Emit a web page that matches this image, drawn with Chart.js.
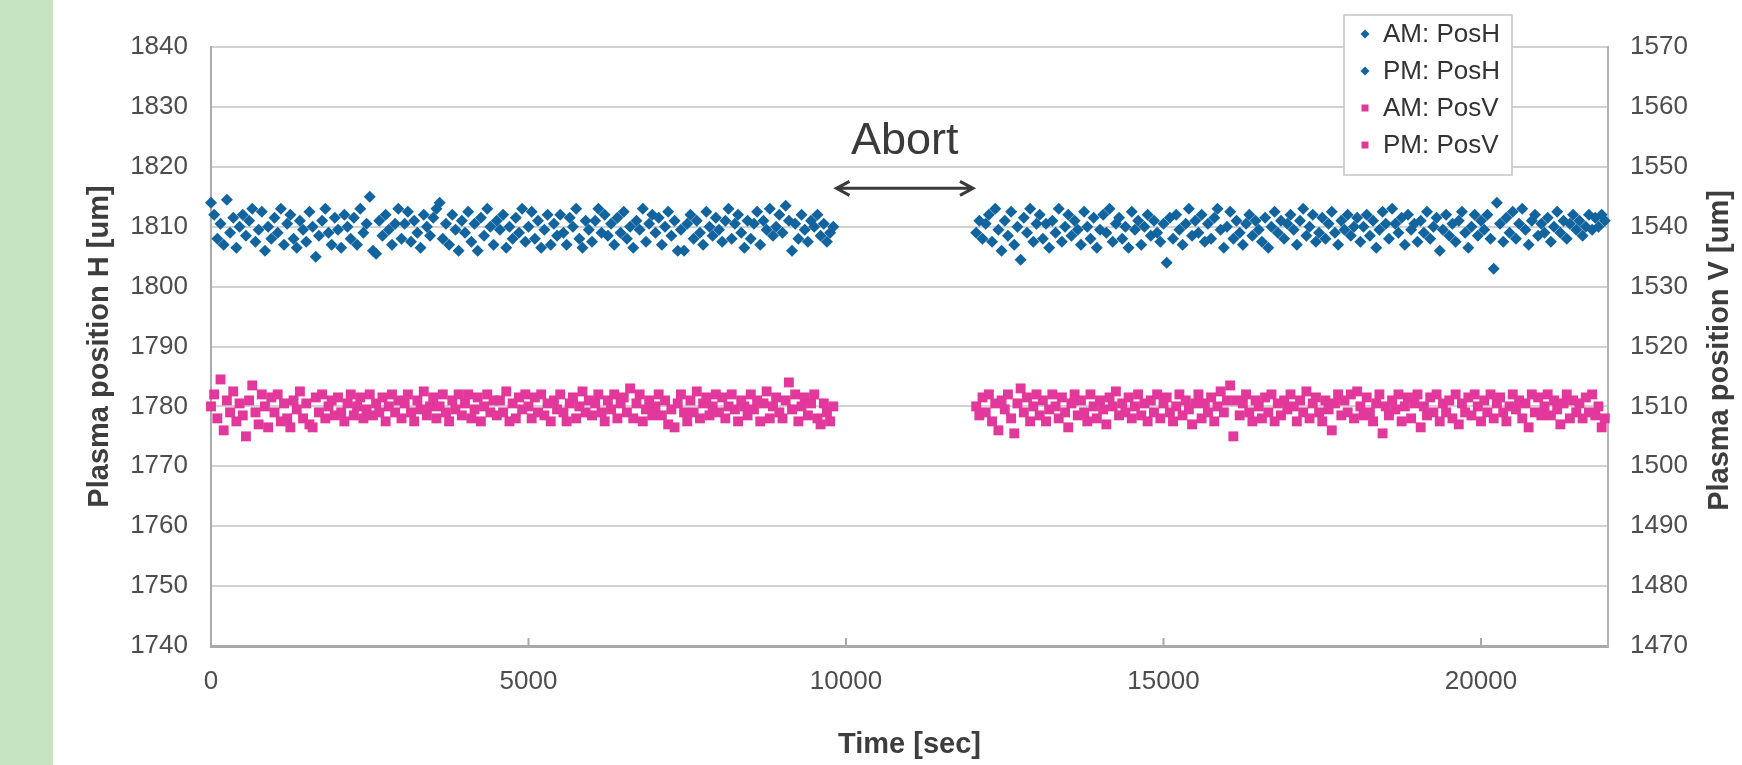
<!DOCTYPE html>
<html>
<head>
<meta charset="utf-8">
<title>Plasma position H / V</title>
<script src="https://cdn.jsdelivr.net/npm/chart.js@4.4.1/dist/chart.umd.min.js"></script>
<style>
  html, body { margin: 0; padding: 0; }
  body {
    width: 1742px; height: 765px; overflow: hidden;
    background: linear-gradient(to right, #c6e4c0 0, #c6e4c0 53px, #ffffff 53px);
  }
  #wrap { position: relative; width: 1742px; height: 765px; }
</style>
</head>
<body>
<div id="wrap"><canvas id="chart"></canvas></div>
<script>
// Time stamps [sec] of each run (shared by PosH and PosV)
const amTime = [0,50,100,150,200,250,300,350,400,450,
  500,550,600,650,700,750,800,850,900,950,
  1000,1050,1100,1150,1200,1250,1300,1350,1400,1450,
  1500,1550,1600,1650,1700,1750,1800,1850,1900,1950,
  2000,2050,2100,2150,2200,2250,2300,2350,2400,2450,
  2500,2550,2600,2650,2700,2750,2800,2850,2900,2950,
  3000,3050,3100,3150,3200,3250,3300,3350,3400,3450,
  3500,3550,3600,3650,3700,3750,3800,3850,3900,3950,
  4000,4050,4100,4150,4200,4250,4300,4350,4400,4450,
  4500,4550,4600,4650,4700,4750,4800,4850,4900,4950,
  5000,5050,5100,5150,5200,5250,5300,5350,5400,5450,
  5500,5550,5600,5650,5700,5750,5800,5850,5900,5950,
  6000,6050,6100,6150,6200,6250,6300,6350,6400,6450,
  6500,6550,6600,6650,6700,6750,6800,6850,6900,6950,
  7000,7050,7100,7150,7200,7250,7300,7350,7400,7450,
  7500,7550,7600,7650,7700,7750,7800,7850,7900,7950,
  8000,8050,8100,8150,8200,8250,8300,8350,8400,8450,
  8500,8550,8600,8650,8700,8750,8800,8850,8900,8950,
  9000,9050,9100,9150,9200,9250,9300,9350,9400,9450,
  9500,9550,9600,9650,9700,9750,9800];

const pmTime = [12050,12100,12150,12200,12250,12300,12350,12400,12450,12500,
  12550,12600,12650,12700,12750,12800,12850,12900,12950,13000,
  13050,13100,13150,13200,13250,13300,13350,13400,13450,13500,
  13550,13600,13650,13700,13750,13800,13850,13900,13950,14000,
  14050,14100,14150,14200,14250,14300,14350,14400,14450,14500,
  14550,14600,14650,14700,14750,14800,14850,14900,14950,15000,
  15050,15100,15150,15200,15250,15300,15350,15400,15450,15500,
  15550,15600,15650,15700,15750,15800,15850,15900,15950,16000,
  16050,16100,16150,16200,16250,16300,16350,16400,16450,16500,
  16550,16600,16650,16700,16750,16800,16850,16900,16950,17000,
  17050,17100,17150,17200,17250,17300,17350,17400,17450,17500,
  17550,17600,17650,17700,17750,17800,17850,17900,17950,18000,
  18050,18100,18150,18200,18250,18300,18350,18400,18450,18500,
  18550,18600,18650,18700,18750,18800,18850,18900,18950,19000,
  19050,19100,19150,19200,19250,19300,19350,19400,19450,19500,
  19550,19600,19650,19700,19750,19800,19850,19900,19950,20000,
  20050,20100,20150,20200,20250,20300,20350,20400,20450,20500,
  20550,20600,20650,20700,20750,20800,20850,20900,20950,21000,
  21050,21100,21150,21200,21250,21300,21350,21400,21450,21500,
  21550,21600,21650,21700,21750,21800,21850,21900,21950];

// Horizontal position [um] (left axis)
const amPosH = [1814,1812,1808,1810.5,1807,1814.5,1809,1811.5,1806.5,1810,
  1812,1808.5,1811,1813,1807.5,1809.5,1812.5,1806,1810,1808,
  1811.5,1809,1813,1807,1810.5,1812,1808,1806.5,1811,1809.5,
  1807.5,1812.5,1810,1805,1808.5,1811,1813,1809,1807,1811.5,
  1809.5,1806.5,1812,1810,1808,1811.5,1807,1813,1809,1810.5,
  1815,1806,1805.5,1811,1808.5,1812,1809.5,1807,1810.5,1813,
  1808,1810.5,1812.5,1807.5,1811,1809,1806.5,1812,1810,1808.5,
  1811.5,1813,1814,1808,1810.5,1807,1812,1809.5,1806,1811,
  1809,1812.5,1807.5,1810.5,1806,1811.5,1808.5,1813,1810,1807,
  1811,1809.5,1812,1806.5,1810,1808,1811.5,1809,1813,1807.5,
  1810,1812.5,1808,1811,1806.5,1809.5,1812,1807,1810.5,1808.5,
  1812,1809,1807,1811.5,1810,1813,1808,1806.5,1811,1809.5,
  1807.5,1811,1813,1809,1812,1808.5,1810.5,1807,1811.5,1809,
  1812.5,1808,1810,1806.5,1811,1809.5,1813,1807.5,1810.5,1812,
  1809,1811.5,1807,1810,1812.5,1808.5,1811,1806,1809.5,1806,
  1810.5,1812,1808,1811,1809,1807,1812.5,1810,1808.5,1811.5,
  1809.5,1807.5,1811,1813,1808,1810.5,1812,1809,1806.5,1811,
  1808,1810.5,1812.5,1807,1811,1809.5,1813,1808.5,1810,1812,
  1809,1813.5,1811,1806,1810.5,1808,1812,1809.5,1807.5,1811,
  1810,1812,1808.5,1810.5,1807.5,1809,1810];

const pmPosH = [1809,1811,1808,1810.5,1812,1807.5,1813,1809.5,1806,1811,
  1808.5,1812.5,1807,1810,1804.5,1811.5,1809,1813,1807.5,1810.5,
  1812,1808,1810.5,1806.5,1811,1809,1813,1807.5,1810,1812,
  1808.5,1811,1809.5,1807,1812.5,1810,1808,1811.5,1806.5,1809.5,
  1812,1809,1813,1807.5,1810.5,1811.5,1808,1810,1806.5,1812.5,
  1809.5,1811,1807,1810,1812,1808.5,1811,1809,1807.5,1810.5,
  1804,1811.5,1808,1812,1809.5,1807,1810.5,1813,1808.5,1811,
  1809,1812,1807.5,1810.5,1808,1811.5,1813,1809.5,1806.5,1810,
  1812.5,1808,1811,1809,1807,1810.5,1812,1808.5,1811,1809.5,
  1807.5,1811.5,1806.5,1810,1812.5,1809,1811,1808,1810.5,1812,
  1809.5,1807,1811,1813,1808.5,1810,1812,1807.5,1809,1811.5,
  1808,1810.5,1812.5,1809,1807,1811,1809.5,1812,1808.5,1810,
  1811.5,1807.5,1810,1812,1808.5,1811,1806.5,1809.5,1812.5,1810.5,
  1808,1813,1810.5,1809,1811.5,1807,1812,1809.5,1810.5,1807.5,
  1811,1809,1812.5,1808,1810,1811.5,1806,1809.5,1812,1808.5,
  1810.5,1807.5,1811,1812.5,1809,1806.5,1810,1812,1808.5,1811,
  1809.5,1812,1808,1803,1814,1810.5,1807.5,1811.5,1809,1812.5,
  1808,1810.5,1813,1809.5,1807,1811,1812,1808.5,1810.5,1809,
  1811.5,1807.5,1810,1812.5,1809,1811,1808,1810.5,1812,1809.5,
  1811,1808.5,1810,1812,1809.5,1811.5,1810,1812,1811];

// Vertical position [um] (right axis)
const amPosV = [1510,1512,1508,1514.5,1506,1511,1509,1512.5,1507.5,1510.5,
  1508.5,1505,1511,1513.5,1509,1507,1512,1510,1506.5,1511.5,
  1509,1512,1507.5,1510.5,1508,1506.5,1511,1509.5,1512.5,1508,
  1510.5,1507,1506.5,1511.5,1509,1512,1508,1510,1511,1508.5,
  1511.5,1509,1507.5,1510.5,1512,1508.5,1510,1511.5,1508,1509.5,
  1512,1508.5,1510.5,1509,1511.5,1507.5,1510,1512,1509,1511,
  1508,1510.5,1512,1509,1507.5,1511,1509.5,1512.5,1508.5,1510,
  1511.5,1508,1510,1512,1509,1507.5,1511,1509.5,1512,1508.5,
  1510.5,1512,1508,1509.5,1511.5,1507.5,1510,1512,1509,1511,
  1508.5,1511,1509,1512.5,1507.5,1510.5,1508,1511.5,1509.5,1512,
  1510,1508,1511.5,1509,1512,1508.5,1510.5,1507.5,1511,1509.5,
  1512,1509,1507.5,1510.5,1511.5,1508,1510,1512.5,1509,1511,
  1508.5,1510.5,1512,1509,1507.5,1511,1509.5,1512,1508,1510.5,
  1511.5,1509,1513,1508,1510.5,1512,1507.5,1509.5,1511,1508.5,
  1510,1512,1508.5,1511,1507,1509.5,1506.5,1510.5,1512,1509,
  1507.5,1511,1509,1512.5,1508,1510.5,1511.5,1508.5,1510,1512,
  1509,1511.5,1508,1510,1512,1509.5,1507.5,1511,1510,1508.5,
  1512,1509.5,1511,1507.5,1510.5,1512.5,1508,1510,1511.5,1509,
  1508,1511,1514,1509.5,1512,1507.5,1510,1511.5,1508.5,1510.5,
  1512,1508,1507,1510.5,1509,1507.5,1510];

const pmPosV = [1510,1508.5,1511.5,1509,1512,1507.5,1510.5,1506,1511,1509.5,
  1512,1508,1505.5,1510.5,1513,1509,1511.5,1507.5,1510,1512,
  1508.5,1511,1507.5,1509.5,1512,1510,1508,1511.5,1509,1506.5,
  1510.5,1512,1508.5,1511,1509,1507.5,1512,1510,1508,1511,
  1509.5,1507,1511.5,1510,1512.5,1508.5,1510.5,1509,1511.5,1508,
  1510,1512,1508.5,1510.5,1507.5,1511,1509,1512,1508,1510.5,
  1511.5,1509,1507.5,1510,1512,1508.5,1511,1509.5,1507,1510.5,
  1512,1508,1510.5,1509,1511.5,1507.5,1510,1512.5,1509,1511,
  1513.5,1505,1511,1508.5,1510.5,1512,1509,1507.5,1511,1510,
  1508,1511.5,1509,1512,1507.5,1510.5,1508.5,1511,1509.5,1512,
  1510,1507.5,1511,1509,1512.5,1508,1510.5,1511.5,1509,1507.5,
  1511,1509.5,1506,1510.5,1512,1508.5,1511,1509,1512,1508,
  1512.5,1510,1508.5,1511.5,1509,1507.5,1510.5,1512,1505.5,1510,
  1508.5,1511,1509.5,1512,1507.5,1510,1511.5,1508,1510.5,1512,
  1506.5,1510,1508.5,1511.5,1509,1512,1507.5,1510.5,1509,1511,
  1508,1512,1507,1510.5,1509,1511.5,1508.5,1512,1510,1507.5,
  1511,1509,1512,1508,1510.5,1511.5,1509,1507.5,1510,1512,
  1509.5,1511,1508,1510.5,1506.5,1512,1509,1511.5,1508.5,1510,
  1512,1508.5,1511,1509.5,1507,1510.5,1512,1508,1511,1509,
  1510.5,1508,1511.5,1509,1512,1508.5,1510,1506.5,1508];

const seriesLabels = ['AM: PosH', 'PM: PosH', 'AM: PosV', 'PM: PosV'];

// Axis tick values
const timeTicks = [0, 5000, 10000, 15000, 20000];

// Abort annotation (data units: sec / left axis um)
const abortText = 'Abort';
const abortFrom = 9850;
const abortTo = 12000;
const abortArrowY = 1816.4;
const abortTextY = 1822.2;

const BLUE = '#12649f';
const PINK = '#e2379b';
const FONT = '"Liberation Sans", Arial, Helvetica, sans-serif';
const TICK_COLOR = '#4d4d4d';
const TITLE_COLOR = '#3d3d3d';

const toPoints = (xs, ys) => xs.map((t, i) => ({ x: t, y: ys[i] }));

const blueStyle = { pointStyle: 'rectRot', pointRadius: 6, pointHoverRadius: 6,
  backgroundColor: BLUE, borderColor: BLUE, borderWidth: 0, yAxisID: 'y', clip: false };
const pinkStyle = { pointStyle: 'rect', pointRadius: 7, pointHoverRadius: 7,
  backgroundColor: PINK, borderColor: PINK, borderWidth: 0, yAxisID: 'y2', clip: false };

// Legend, abort arrow, inner x ticks and right axis title
const overlay = {
  id: 'overlay',
  afterDraw(chart) {
    const { ctx, chartArea, scales: { x, y } } = chart;
    ctx.save();

    // small inner tick marks on the time axis
    ctx.strokeStyle = '#a9a9a9';
    ctx.lineWidth = 2;
    x.ticks.forEach(t => {
      const px = x.getPixelForValue(t.value);
      ctx.beginPath();
      ctx.moveTo(px, chartArea.bottom);
      ctx.lineTo(px, chartArea.bottom - 8);
      ctx.stroke();
    });

    // Abort label and double arrow
    const x1 = x.getPixelForValue(abortFrom);
    const x2 = x.getPixelForValue(abortTo);
    const ay = y.getPixelForValue(abortArrowY);
    ctx.fillStyle = '#3a3a3a';
    ctx.font = '45px ' + FONT;
    ctx.textAlign = 'center';
    ctx.textBaseline = 'alphabetic';
    ctx.fillText(abortText, (x1 + x2) / 2, y.getPixelForValue(abortTextY));
    ctx.strokeStyle = '#3a3a3a';
    ctx.lineWidth = 3;
    ctx.beginPath();
    ctx.moveTo(x1, ay); ctx.lineTo(x2, ay);
    ctx.moveTo(x1 + 13, ay - 7); ctx.lineTo(x1, ay); ctx.lineTo(x1 + 13, ay + 7);
    ctx.moveTo(x2 - 13, ay - 7); ctx.lineTo(x2, ay); ctx.lineTo(x2 - 13, ay + 7);
    ctx.stroke();

    // right axis title, reading upwards
    ctx.save();
    ctx.translate(1720, (chartArea.top + chartArea.bottom) / 2 + 4);
    ctx.rotate(-Math.PI / 2);
    ctx.font = 'bold 29px ' + FONT;
    ctx.fillStyle = TITLE_COLOR;
    ctx.textBaseline = 'middle';
    ctx.fillText('Plasma position V [um]', 0, 0);
    ctx.restore();

    // legend box
    const lx = 1344, ly = 15, lw = 168, lh = 160;
    ctx.fillStyle = '#ffffff';
    ctx.fillRect(lx, ly, lw, lh);
    ctx.strokeStyle = '#c4c4c4';
    ctx.lineWidth = 1.5;
    ctx.strokeRect(lx, ly, lw, lh);
    ctx.font = '26px ' + FONT;
    ctx.textAlign = 'left';
    ctx.textBaseline = 'middle';
    chart.data.datasets.forEach((ds, i) => {
      const cy = 34 + i * 37;
      const cx = 1365;
      ctx.fillStyle = ds.backgroundColor;
      ctx.beginPath();
      if (ds.pointStyle === 'rectRot') {
        ctx.moveTo(cx - 4.5, cy); ctx.lineTo(cx, cy - 4.5);
        ctx.lineTo(cx + 4.5, cy); ctx.lineTo(cx, cy + 4.5);
        ctx.closePath();
      } else {
        ctx.rect(cx - 3.5, cy - 3.5, 7, 7);
      }
      ctx.fill();
      ctx.fillStyle = '#333333';
      ctx.fillText(ds.label, 1383, cy + 1);
    });

    ctx.restore();
  }
};

const tickFont = { family: FONT, size: 26 };
const plainNumber = v => String(v);

new Chart(document.getElementById('chart'), {
  type: 'scatter',
  data: {
    datasets: [
      Object.assign({ label: seriesLabels[0], data: toPoints(amTime, amPosH) }, blueStyle),
      Object.assign({ label: seriesLabels[1], data: toPoints(pmTime, pmPosH) }, blueStyle),
      Object.assign({ label: seriesLabels[2], data: toPoints(amTime, amPosV) }, pinkStyle),
      Object.assign({ label: seriesLabels[3], data: toPoints(pmTime, pmPosV) }, pinkStyle)
    ]
  },
  options: {
    responsive: true,
    maintainAspectRatio: false,
    animation: false,
    layout: { padding: { top: 47, left: 0, right: 0, bottom: 0 } },
    plugins: {
      legend: { display: false },
      tooltip: { enabled: false }
    },
    scales: {
      x: {
        type: 'linear',
        position: 'bottom',
        min: 0,
        max: 22000,
        afterBuildTicks: s => { s.ticks = timeTicks.map(v => ({ value: v })); },
        ticks: { padding: 20, maxRotation: 0, autoSkip: false,
          color: TICK_COLOR, font: tickFont, callback: plainNumber },
        grid: { display: false, drawTicks: false },
        border: { display: true, color: '#a9a9a9', width: 3 },
        title: { display: true, text: 'Time [sec]', color: TITLE_COLOR,
          font: { family: FONT, size: 29, weight: 'bold' }, padding: { top: 0, bottom: 3 } },
        afterFit: s => { s.height = 119; }
      },
      y: {
        position: 'left',
        min: 1740,
        max: 1840,
        ticks: { stepSize: 10, padding: 23, color: TICK_COLOR, font: tickFont, callback: plainNumber },
        grid: { color: '#d2d2d2', lineWidth: 2, drawTicks: false },
        border: { display: true, color: '#aaaaaa', width: 2 },
        title: { display: true, text: 'Plasma position H [um]', color: TITLE_COLOR,
          font: { family: FONT, size: 29, weight: 'bold' }, padding: { top: 83, bottom: 0 } },
        afterFit: s => { s.width = 211; }
      },
      y2: {
        position: 'right',
        min: 1470,
        max: 1570,
        ticks: { stepSize: 10, padding: 22, color: TICK_COLOR, font: tickFont, callback: plainNumber },
        grid: { drawOnChartArea: false, drawTicks: false },
        border: { display: true, color: '#b5b5b5', width: 2 },
        afterFit: s => { s.width = 134; }
      }
    }
  },
  plugins: [overlay]
});
</script>
</body>
</html>
